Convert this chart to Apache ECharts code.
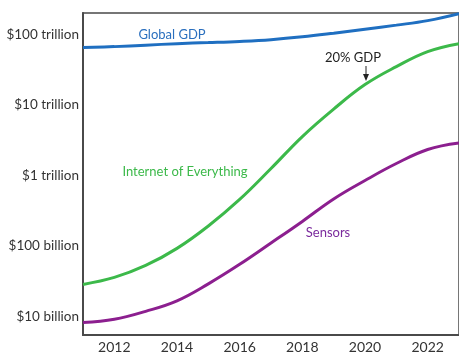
<!DOCTYPE html>
<html>
<head>
<meta charset="utf-8">
<script src="https://cdn.jsdelivr.net/npm/echarts@6/dist/echarts.min.js"></script>
<style>html,body{margin:0;padding:0;background:#fff}#c{width:459px;height:354px}</style>
</head>
<body>
<div id="c"></div>
<script>
// Years
var years = [2011,2012,2013,2014,2015,2016,2017,2018,2019,2020,2021,2022,2023];
// Values in US$ billion
var globalGDP = [65460,67610,70960,74470,77090,80170,84920,93110,105000,119700,136500,158100,198600];
var internetOfEverything = [28.4,35.7,52.8,92.3,192,457,1256,3573,8770,19540,35160,57410,74470];
var sensors = [8.15,9.06,11.78,16.6,28.9,54.7,109.9,222.8,464.5,849,1479,2339,2891];
// Tick labels
var xTicks = [2012,2014,2016,2018,2020,2022];
var yTickValues = [10,100,1000,10000,100000];
var yTickLabels = ['$10 billion','$100 billion','$1 trillion','$10 trillion','$100 trillion'];

function pairs(vals){ return years.map(function(y,i){ return [y, vals[i]]; }); }

var FONT = 'Lato';
var chart = echarts.init(document.getElementById('c'), null, {renderer:'canvas'});
chart.setOption({
  animation:false,
  grid:{left:83, right:-3, top:13, bottom:18, show:true, borderColor:'#4a4a4a', borderWidth:1.5, containLabel:false},
  xAxis:{
    type:'value', min:2011, max:2023,
    axisLine:{show:true, lineStyle:{color:'#4a4a4a', width:2}},
    axisTick:{show:false}, splitLine:{show:false},
    axisLabel:{customValues:xTicks, color:'#333', fontFamily:FONT, fontSize:14, margin:5,
      formatter:function(v){return String(v);}}
  },
  yAxis:{
    type:'log', logBase:10, min:5.43, max:203000,
    axisLine:{show:true, lineStyle:{color:'#4a4a4a', width:2}},
    axisTick:{show:false}, splitLine:{show:false},
    axisLabel:{customValues:yTickValues, color:'#333', fontFamily:FONT, fontSize:13.5, margin:4,
      formatter:function(v){ var i=-1; for(var k=0;k<yTickValues.length;k++){ if(Math.abs(Math.log10(v)-Math.log10(yTickValues[k]))<0.01) i=k; } return i>=0?yTickLabels[i]:''; }}
  },
  series:[
    {type:'line', name:'Global GDP', data:pairs(globalGDP), smooth:0.4, showSymbol:false, lineStyle:{color:'#1f6fc1', width:3}},
    {type:'line', name:'Internet of Everything', data:pairs(internetOfEverything), smooth:0.4, showSymbol:false, lineStyle:{color:'#3cb94a', width:3}},
    {type:'line', name:'Sensors', data:pairs(sensors), smooth:0.4, showSymbol:false, lineStyle:{color:'#8c1f8f', width:3}}
  ],
  graphic:[
    {type:'text', x:172, y:35, style:{text:'Global GDP', fill:'#2a6fbe', font:'13px '+FONT, align:'center', verticalAlign:'middle'}},
    {type:'text', x:353, y:58, style:{text:'20% GDP', fill:'#222', font:'13px '+FONT, align:'center', verticalAlign:'middle'}},
    {type:'line', shape:{x1:366, y1:66, x2:366, y2:76}, style:{stroke:'#222', lineWidth:1}},
    {type:'polygon', shape:{points:[[363,74],[369,74],[366,81]]}, style:{fill:'#222'}},
    {type:'text', x:185, y:172, style:{text:'Internet of Everything', fill:'#3cb94a', font:'13px '+FONT, align:'center', verticalAlign:'middle'}},
    {type:'text', x:328, y:233, style:{text:'Sensors', fill:'#7b2b9d', font:'13px '+FONT, align:'center', verticalAlign:'middle'}}
  ]
});
</script>
</body>
</html>
